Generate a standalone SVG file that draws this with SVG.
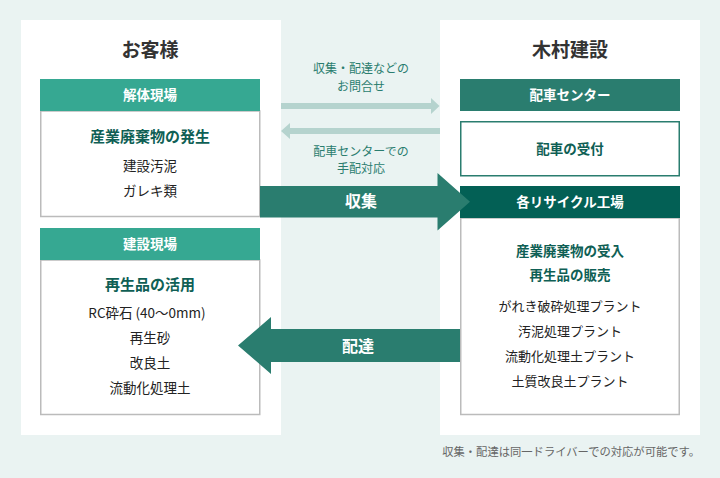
<svg xmlns="http://www.w3.org/2000/svg" width="720" height="478" viewBox="0 0 720 478">
<style>
text{font-family:"Noto Sans CJK JP","Noto Sans",sans-serif;text-anchor:middle}
.title{font-size:19px;font-weight:bold;fill:#333}
.hd{font-size:13.5px;font-weight:bold;fill:#fff}
.em{font-size:15px;font-weight:bold;fill:#0f5f55}
.em2{font-size:13.5px;font-weight:bold;fill:#0f5f55}
.it{font-size:13px;fill:#222}
.itl{font-size:13.5px;fill:#222}
.lbl{font-size:12px;fill:#2a7d6f}
.big{font-size:16px;font-weight:bold;fill:#fff}
.box{fill:#fff;stroke:#bbbbbb;stroke-width:1.5}
</style>
<rect width="720" height="478" fill="#eaf3f2"/>
<rect x="21" y="20" width="260" height="415" fill="#fff"/>
<rect x="440" y="20" width="260" height="415" fill="#fff"/>
<text class="title" x="150" y="57">お客様</text>
<text class="title" x="570" y="57">木村建設</text>

<g id="kaitai">
<rect class="box" x="40.75" y="111" width="219" height="105.5"/>
<rect x="40" y="79" width="220" height="32" fill="#36a892"/>
<text class="hd" x="150" y="99.8">解体現場</text>
<text class="em" x="150" y="142.3">産業廃棄物の発生</text>
<text class="itl" x="150" y="170.8">建設汚泥</text>
<text class="itl" x="150" y="195.8">ガレキ類</text>
</g>

<g id="kensetsu">
<rect class="box" x="40.75" y="260" width="219" height="154.5"/>
<rect x="40" y="228" width="220" height="32" fill="#36a892"/>
<text class="hd" x="150" y="248.8">建設現場</text>
<text class="em" x="150" y="290.3">再生品の活用</text>
<text class="itl" x="147" y="318.3">RC砕石 (40〜0mm)</text>
<text class="itl" x="150" y="342.8">再生砂</text>
<text class="itl" x="150" y="367.8">改良土</text>
<text class="itl" x="150" y="392.8">流動化処理土</text>
</g>

<g id="haisha">
<rect x="460" y="79" width="220" height="32" fill="#2a7d6f"/>
<text class="hd" x="570" y="99.8">配車センター</text>
</g>

<g id="uketsuke">
<rect x="460.75" y="121.75" width="218.5" height="54" fill="#fff" stroke="#2a7d6f" stroke-width="1.5"/>
<text class="em2" x="570" y="153.5">配車の受付</text>
</g>

<g id="recycle">
<rect class="box" x="460.75" y="218" width="218.5" height="196.5"/>
<rect x="460" y="186" width="220" height="32" fill="#036055"/>
<text class="hd" x="570" y="206.8">各リサイクル工場</text>
<text class="em2" x="570" y="255.8">産業廃棄物の受入</text>
<text class="em2" x="570" y="280.3">再生品の販売</text>
<text class="it" x="570" y="310.6">がれき破砕処理プラント</text>
<text class="it" x="570" y="335.6">汚泥処理プラント</text>
<text class="it" x="570" y="360.6">流動化処理土プラント</text>
<text class="it" x="570" y="385.6">土質改良土プラント</text>
</g>

<g id="connectors">
<polygon points="281,103 431,103 431,98 439.5,106 431,114 431,109 281,109" fill="#b5d3ce"/>
<polygon points="440,128 290,128 290,123 281,131 290,139 290,134 440,134" fill="#b5d3ce"/>
<text class="lbl" x="361" y="72.8">収集・配達などの</text>
<text class="lbl" x="361" y="91.3">お問合せ</text>
<text class="lbl" x="361" y="155.8">配車センターでの</text>
<text class="lbl" x="361" y="173.3">手配対応</text>
<polygon points="260,186 437.5,186 437.5,173 470,201.7 437.5,230.5 437.5,217.5 260,217.5" fill="#2a7d6f"/>
<text class="big" x="361" y="206.7">収集</text>
<polygon points="460,329 271,329 271,317 238,345.5 271,374 271,362 460,362" fill="#2a7d6f"/>
<text class="big" x="358" y="351.5">配達</text>
</g>
<text x="700" y="455.5" style="font-size:11.3px;fill:#666;text-anchor:end">収集・配達は同一ドライバーでの対応が可能です。</text>
</svg>
